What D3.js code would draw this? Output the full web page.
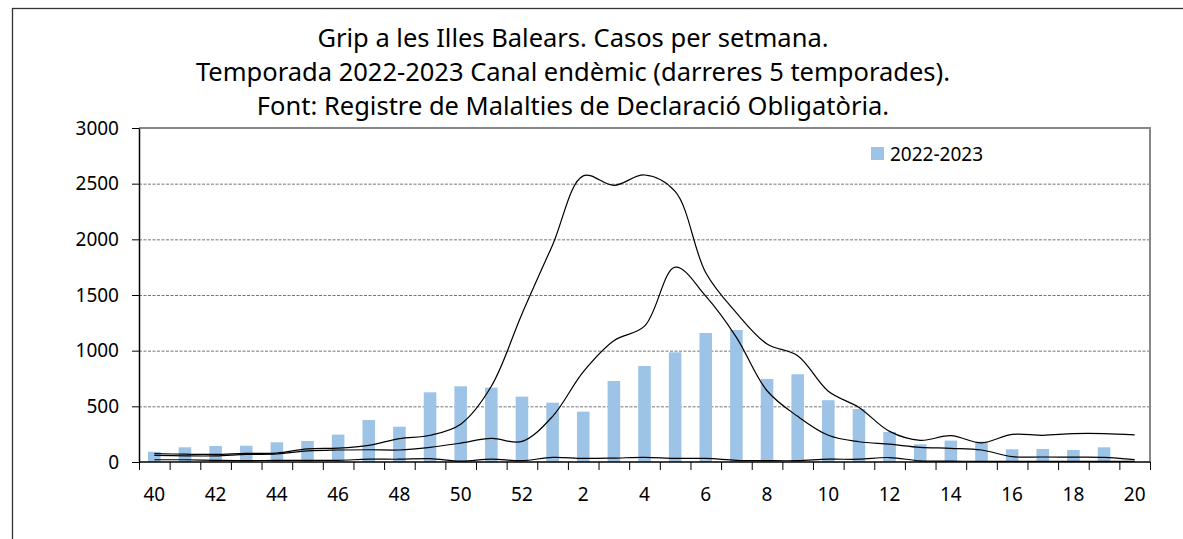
<!DOCTYPE html>
<html>
<head>
<meta charset="utf-8">
<script src="https://cdn.jsdelivr.net/npm/d3@7"></script>
<style>
  body { margin: 0; background: #fff; }
  svg { font-family: "Noto Sans", "Open Sans", sans-serif; }
</style>
</head>
<body>
<script>
// weeks of the season (40..52, 1..20)
var weeks = ["40","41","42","43","44","45","46","47","48","49","50","51","52",
  "1","2","3","4","5","6","7","8","9","10","11","12","13","14","15","16","17","18","19","20"];

// cases 2022-2023 (no value yet for week 20)
var cases2223 = [92,132,144,146,177,189,246,377,317,626,680,668,587,
  533,452,728,862,985,1159,1186,746,788,555,476,270,159,192,183,114,117,108,132,null];

// endemic channel (last 5 seasons)
var upperLine = [75,70,68,78,80,118,125,150,210,240,340,680,1330,
  1950,2570,2485,2578,2430,1700,1340,1060,955,635,490,275,195,237,172,248,240,255,255,243];
var medianLine = [60,55,55,68,72,100,108,110,108,132,170,212,185,
  410,810,1090,1220,1750,1490,1120,640,410,240,182,160,132,123,108,48,45,44,42,22];
var lowerLine = [20,20,15,12,15,15,15,25,25,30,8,25,12,
  42,32,35,42,32,32,15,12,12,25,25,40,10,8,5,5,5,5,5,5];

var yTicks = [0,500,1000,1500,2000,2500,3000];

window.onload = () => {
  var W = 1183, H = 539;
  var margin = {top: 128, left: 139, right: 33, bottom: 77};
  var width = W - margin.left - margin.right,
      height = H - margin.top - margin.bottom;

  var svg = d3.select("body").append("svg")
    .attr("width", W).attr("height", H);

  // outer frame (right and bottom edges fall outside the view)
  svg.append("rect")
    .attr("x", 12.5).attr("y", 8.5)
    .attr("width", W).attr("height", H + 10)
    .attr("fill", "none").attr("stroke", "#333").attr("stroke-width", 1.3);

  // title
  var titles = ["Grip a les Illes Balears. Casos per setmana.",
    "Temporada 2022-2023 Canal endèmic (darreres 5 temporades).",
    "Font: Registre de Malalties de Declaració Obligatòria."];
  svg.append("g").selectAll("text").data(titles).enter().append("text")
    .attr("x", 573).attr("y", (d, i) => 47 + i * 34)
    .attr("text-anchor", "middle")
    .attr("font-size", 25.5).attr("fill", "#000")
    .text(d => d);

  var g = svg.append("g")
    .attr("transform", "translate(" + margin.left + "," + margin.top + ")");

  var x = d3.scaleBand().domain(d3.range(weeks.length)).range([0, width]);
  var y = d3.scaleLinear().domain([0, 3000]).range([height, 0]);

  // gridlines
  g.selectAll(".grid").data(yTicks.filter(d => d > 0 && d < 3000)).enter().append("line")
    .attr("x1", 0).attr("x2", width)
    .attr("y1", d => y(d) + 0.5).attr("y2", d => y(d) + 0.5)
    .attr("stroke", "#777").attr("stroke-dasharray", "3,1.5").attr("stroke-width", 1);

  // top and right plot border
  g.append("path")
    .attr("d", "M0," + 0 + "H" + width + "V" + height)
    .attr("fill", "none").attr("stroke", "#888").attr("stroke-width", 2);

  // bars
  var bw = x.bandwidth() * 0.41;
  g.selectAll(".bar").data(cases2223.map((v, i) => ({i: i, v: v})).filter(d => d.v != null))
    .enter().append("rect")
    .attr("x", d => x(d.i) + (x.bandwidth() - bw) / 2)
    .attr("y", d => y(d.v))
    .attr("width", bw)
    .attr("height", d => height - y(d.v))
    .attr("fill", "#9dc3e6");

  // lines
  var line = d3.line()
    .x((d, i) => x(i) + x.bandwidth() / 2)
    .y(d => y(d))
    .curve(d3.curveCatmullRom.alpha(0.5));
  [upperLine, medianLine, lowerLine].forEach(function (s) {
    g.append("path").datum(s)
      .attr("d", line)
      .attr("fill", "none").attr("stroke", "#000").attr("stroke-width", 1.2);
  });

  // y axis
  var yAxis = g.append("g")
    .call(d3.axisLeft(y).tickValues(yTicks).tickFormat(d3.format("d"))
      .tickSize(7).tickPadding(13).tickSizeOuter(0));
  yAxis.select(".domain").attr("stroke", "#000").attr("stroke-width", 1.5);
  yAxis.selectAll("text").attr("font-size", 19).attr("fill", "#000")
    .attr("font-family", "'Noto Sans', sans-serif");
  yAxis.selectAll(".tick line").attr("stroke", "#000");

  // x axis: ticks at category boundaries, labels every other week
  var xb = g.append("g").attr("transform", "translate(0," + height + ")");
  xb.append("line").attr("x1", 0).attr("x2", width)
    .attr("stroke", "#000").attr("stroke-width", 1.5);
  xb.selectAll(".xt").data(d3.range(weeks.length + 1)).enter().append("line")
    .attr("x1", d => (d < weeks.length ? x(d) : width) + 0.5)
    .attr("x2", d => (d < weeks.length ? x(d) : width) + 0.5)
    .attr("y1", 0).attr("y2", 8)
    .attr("stroke", "#000");
  xb.selectAll(".xl").data(weeks.map((w, i) => ({w: w, i: i})).filter(d => d.i % 2 === 0))
    .enter().append("text")
    .attr("x", d => x(d.i) + x.bandwidth() / 2)
    .attr("y", 39)
    .attr("text-anchor", "middle")
    .attr("font-size", 19).attr("fill", "#000")
    .text(d => d.w);

  // legend
  var lg = svg.append("g").attr("transform", "translate(871,147)");
  lg.append("rect").attr("width", 13).attr("height", 13).attr("fill", "#9dc3e6");
  lg.append("text").attr("x", 19).attr("y", 13.5)
    .attr("font-size", 19).attr("fill", "#000").text("2022-2023");
};
</script>
</body>
</html>
